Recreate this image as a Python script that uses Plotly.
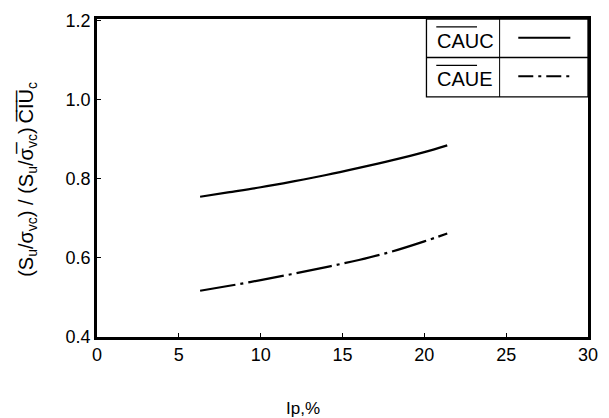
import plotly.graph_objects as go

# Data
ip_cauc = [6.3, 8.0, 10.0, 12.0, 14.0, 16.0, 18.0, 20.0, 21.4]
ratio_cauc = [0.755, 0.766, 0.779, 0.794, 0.810, 0.828, 0.847, 0.868, 0.885]

ip_caue = [6.3, 8.0, 10.0, 12.0, 14.0, 16.0, 18.0, 20.0, 21.4]
ratio_caue = [0.517, 0.529, 0.544, 0.560, 0.577, 0.595, 0.616, 0.642, 0.662]

x_ticks = [0, 5, 10, 15, 20, 25, 30]
y_ticks = [0.4, 0.6, 0.8, 1.0, 1.2]
legend_labels = ["CAUC", "CAUE"]

FONT = "Liberation Sans, Arial, sans-serif"

fig = go.Figure()
fig.add_trace(go.Scatter(x=ip_cauc, y=ratio_cauc, mode="lines",
                         line=dict(color="black", width=2.2, shape="spline"),
                         showlegend=False))
fig.add_trace(go.Scatter(x=ip_caue, y=ratio_caue, mode="lines",
                         line=dict(color="black", width=2.2, shape="spline",
                                   dash="36px,5px,3px,5px"),
                         showlegend=False))

# Hand-drawn style legend table in the top-right corner (paper coordinates)
L, R, T, B, MID = 0.671, 1.0, 1.0, 0.755, 0.879
DIV = 0.820
shapes = [
    dict(type="rect", xref="paper", yref="paper", x0=L, x1=R, y0=B, y1=T,
         line=dict(color="black", width=1.3)),
    dict(type="line", xref="paper", yref="paper", x0=L, x1=R, y0=MID, y1=MID,
         line=dict(color="black", width=1.3)),
    dict(type="line", xref="paper", yref="paper", x0=DIV, x1=DIV, y0=B, y1=T,
         line=dict(color="black", width=1)),
    dict(type="line", xref="paper", yref="paper", x0=0.858, x1=0.964, y0=0.941, y1=0.941,
         line=dict(color="black", width=2)),
    dict(type="line", xref="paper", yref="paper", x0=0.858, x1=0.964, y0=0.820, y1=0.820,
         line=dict(color="black", width=2, dash="15px,5px,3px,5px")),
    # overlines on the legend labels
    dict(type="line", xref="paper", yref="paper", x0=0.691, x1=0.774, y0=0.975, y1=0.975,
         line=dict(color="black", width=1.2)),
    dict(type="line", xref="paper", yref="paper", x0=0.691, x1=0.774, y0=0.854, y1=0.854,
         line=dict(color="black", width=1.2)),
]

annotations = [
    dict(text=legend_labels[0], xref="paper", yref="paper", x=0.689, y=0.932,
         xanchor="left", yanchor="middle", showarrow=False,
         font=dict(family=FONT, size=20, color="black")),
    dict(text=legend_labels[1], xref="paper", yref="paper", x=0.689, y=0.811,
         xanchor="left", yanchor="middle", showarrow=False,
         font=dict(family=FONT, size=20, color="black")),
    dict(text="Ip,%", xref="paper", yref="paper", x=0.419, y=-0.225,
         xanchor="center", yanchor="middle", showarrow=False,
         font=dict(family=FONT, size=17, color="black")),
    dict(text="(S<sub>u</sub>/σ<sub>vc</sub>) / (S<sub>u</sub>/σ\u0305<sub>vc</sub>)\u2009C\u0305I\u0305U\u0305<sub>c</sub>",
         xref="paper", yref="paper", x=-0.142, y=0.495, textangle=-90,
         xanchor="center", yanchor="middle", showarrow=False,
         font=dict(family=FONT, size=20, color="black")),
]

fig.update_layout(
    width=609, height=418,
    margin=dict(l=97, r=11, t=14, b=81),
    paper_bgcolor="white", plot_bgcolor="white",
    font=dict(family=FONT, size=18, color="black"),
    shapes=shapes, annotations=annotations,
    showlegend=False,
)
fig.update_xaxes(range=[0, 30], tickvals=x_ticks, ticks="inside", ticklen=4,
                 tickcolor="black", showline=True, linecolor="black", linewidth=2.5,
                 mirror=True, showgrid=False, zeroline=False,
                 tickfont=dict(family=FONT, size=18))
fig.update_yaxes(range=[0.4, 1.205], tickvals=y_ticks, tickformat=".1f", ticks="inside",
                 ticklen=4, tickcolor="black", showline=True, linecolor="black",
                 linewidth=2.5, mirror=True, showgrid=False, zeroline=False,
                 tickfont=dict(family=FONT, size=18))

fig.write_html("out.html")
